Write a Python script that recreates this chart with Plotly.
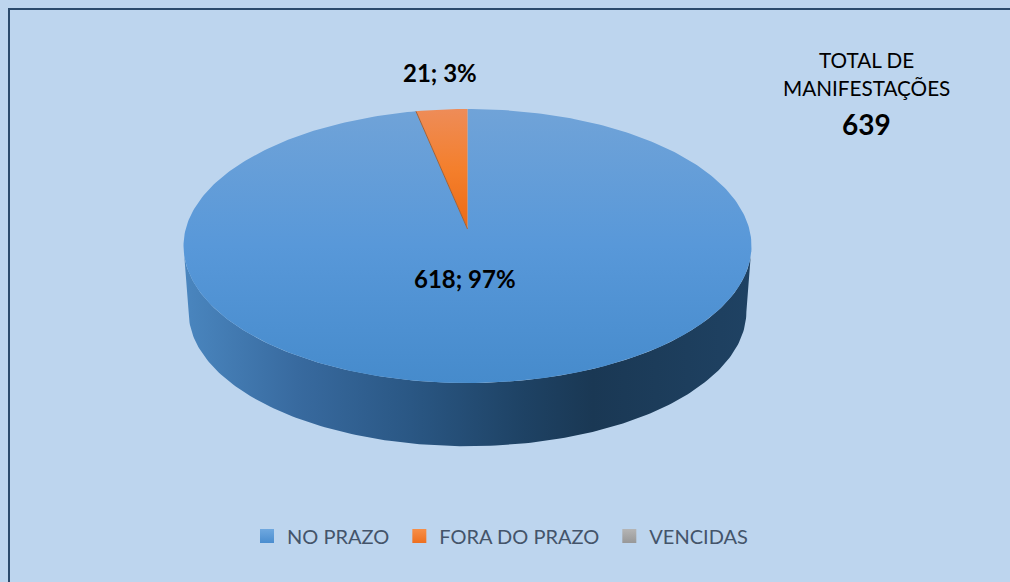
import numpy as np
import plotly.graph_objects as go

categories = ["NO PRAZO", "FORA DO PRAZO", "VENCIDAS"]
values = [618, 21, 0]
total_title = ["TOTAL DE", "MANIFESTAÇÕES"]

BG = "#BDD5EE"
FRAME = "#2B4A6C"
FONT = "Lato"
TOP_SCALES = [
    [[0, "#468BCC"], [0.5, "#5898D9"], [1, "#70A3D8"]],
    [[0, "#EC6A14"], [0.5, "#F47F2C"], [1, "#EE8C58"]],
    [[0, "#A5A5A5"], [1, "#A5A5A5"]],
]
SIDE_SCALE = [[0, "#4A86BF"], [0.2, "#386A9F"], [0.4, "#2A5784"], [0.6, "#1E4264"],
              [0.72, "#1A3854"], [1, "#1F4263"]]
SWATCH = [("#4A8DCF", "#6FA8DF"), ("#EE7020", "#F78F48"), ("#989898", "#B5B5B5")]

# perspective projection of the pie disc
X0, Y0, A, B, K = 467.5, 229.0, 281.8, 134.9, 0.124
SCALE_B, DROP = 0.982, 66.0


def project(theta, bottom=False):
    u, v = np.sin(theta), np.cos(theta)
    w = 1 + K * v
    s = SCALE_B if bottom else 1.0
    d = DROP if bottom else 0.0
    return X0 + s * A * u / w, Y0 + d - s * B * v / w


fig = go.Figure()

# visible side wall
t0 = np.arccos(-K)
arc = np.linspace(t0, 2 * np.pi - t0, 180)
xt, yt = project(arc)
xb, yb = project(arc, True)
fig.add_trace(go.Scatter(
    x=np.r_[xt, xb[::-1]], y=np.r_[yt, yb[::-1]], mode="lines", fill="toself",
    line=dict(width=0), fillgradient=dict(type="horizontal", colorscale=SIDE_SCALE),
    showlegend=False, hoverinfo="skip"))

# top face
total = sum(values)
start = 0.0
for cat, val, scale in zip(categories, values, TOP_SCALES):
    stop = start + val / total * 2 * np.pi
    if val > 0:
        th = np.linspace(start, stop, max(4, int(val / total * 360)))
        x, y = project(th)
        fig.add_trace(go.Scatter(
            x=np.r_[X0, x, X0], y=np.r_[Y0, y, Y0], mode="lines", fill="toself",
            line=dict(width=0),
            fillgradient=dict(type="vertical", colorscale=scale,
                              start=383 if cat == categories[0] else 229,
                              stop=109),
            name=cat, showlegend=False, hoverinfo="name"))
    start = stop

# dark inner edge of the small slice
ex, ey = project(2 * np.pi * (1 - values[1] / total))
fig.add_trace(go.Scatter(x=[X0, ex], y=[Y0, ey], mode="lines",
                         line=dict(color="#A0623A", width=1),
                         showlegend=False, hoverinfo="skip"))

# legend entries (the no-break space evens out the entry spacing)
for i, (cat, (c0, c1)) in enumerate(zip(categories, SWATCH)):
    label = cat + ("\u00a0" if i < 2 else "")
    fig.add_trace(go.Scatter(
        x=[None], y=[None], mode="markers", name=label,
        marker=dict(symbol="square", size=14, color=c1, line=dict(width=0),
                    gradient=dict(type="vertical", color=c0))))

annotations = []
for i, (xp, yp) in enumerate([(465, 278), (440, 72)]):
    annotations.append(dict(
        x=xp, y=yp, text=f"<b>{values[i]}; {round(values[i] / total * 100)}%</b>",
        showarrow=False, font=dict(family=FONT, size=24, color="#000000")))
annotations += [
    dict(x=866.5, y=60, text=total_title[0], showarrow=False,
         font=dict(family=FONT, size=20.7, color="#000000")),
    dict(x=866.5, y=88, text=total_title[1], showarrow=False,
         font=dict(family=FONT, size=20.7, color="#000000")),
    dict(x=866.5, y=124, text=f"<b>{total}</b>", showarrow=False,
         font=dict(family=FONT, size=28, color="#000000")),
]

frame = dict(color=FRAME, width=2)
shapes = [
    dict(type="line", xref="x", yref="y", x0=9, y0=8, x1=9, y1=582, line=frame),
    dict(type="line", xref="x", yref="y", x0=8, y0=9, x1=1010, y1=9, line=frame),
]

fig.update_layout(
    width=1010, height=582, margin=dict(l=0, r=0, t=0, b=0),
    paper_bgcolor=BG, plot_bgcolor=BG,
    xaxis=dict(range=[0, 1010], visible=False, fixedrange=True),
    yaxis=dict(range=[582, 0], visible=False, fixedrange=True),
    font=dict(family=FONT),
    annotations=annotations, shapes=shapes,
    legend=dict(orientation="h", x=0.5 - 5 / 1010, xanchor="center",
                y=1 - 536 / 582, yanchor="middle",
                font=dict(family=FONT, size=20, color="#44546A"),
                bgcolor="rgba(0,0,0,0)"),
)
fig.write_html("out.html", config=dict(displayModeBar=False),
               post_script="document.body.style.margin='0';document.body.style.overflow='hidden';")
